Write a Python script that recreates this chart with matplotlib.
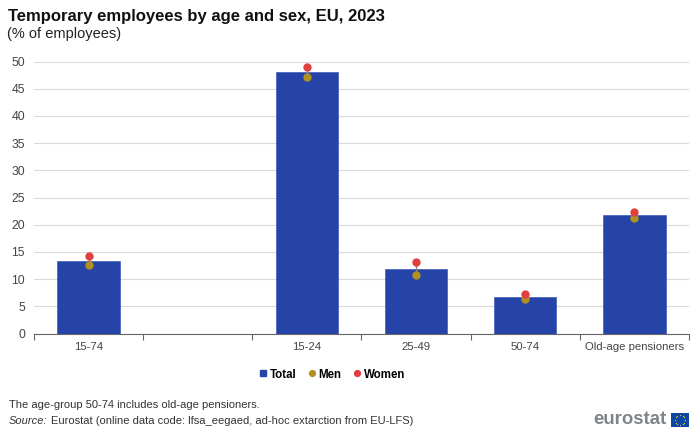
import numpy as np
import matplotlib
matplotlib.use("Agg")
import matplotlib.pyplot as plt
from matplotlib.lines import Line2D
from matplotlib.patches import Rectangle

plt.rcParams['font.family'] = ['Liberation Sans', 'DejaVu Sans']

categories = ["15-74", "", "15-24", "25-49", "50-74", "Old-age pensioners"]
total = [13.4, np.nan, 48.1, 11.9, 6.8, 21.8]
men = [12.6, np.nan, 47.1, 10.7, 6.3, 21.3]
women = [14.3, np.nan, 49.0, 13.1, 7.3, 22.4]
yticks = [0, 5, 10, 15, 20, 25, 30, 35, 40, 45, 50]

BLUE = "#2644A7"
GOLD = "#B09120"
RED = "#E04040"
W, H = 700, 433

fig = plt.figure(figsize=(7, 4.33), dpi=100)
ax = fig.add_axes([34/W, 1-333.5/H, (689-34)/W, (333.5-61.5)/H])
x = np.arange(len(categories))

ax.bar(x, total, width=0.57, color=BLUE, edgecolor="#3F5BB8", linewidth=0.5, zorder=3)
ax.vlines(x, men, women, color="#888888", linewidth=1, zorder=4)
ax.scatter(x, men, s=36, color=GOLD, linewidth=0, zorder=5, clip_on=False)
ax.scatter(x, women, s=36, color=RED, linewidth=0, zorder=6, clip_on=False)

ax.set_xlim(-0.5, len(categories)-0.5)
ax.set_ylim(0, 50)
ax.set_yticks(yticks)
ax.set_xticks(np.arange(len(categories)+1)-0.5)
ax.set_xticklabels([])
ax.set_xticks(x, minor=True)
ax.set_xticklabels(categories, minor=True)
ax.tick_params(axis='x', which='major', length=4, width=0.8, color="#666666", direction='out')
ax.tick_params(axis='x', which='minor', length=0, pad=6, labelsize=8.2, labelcolor="#444444")
ax.tick_params(axis='y', length=0, pad=6.5, labelsize=8.8, labelcolor="#444444")
ax.grid(axis='y', color="#DADADA", linewidth=0.8, zorder=0)
ax.set_axisbelow(True)
for s in ['top', 'left', 'right']:
    ax.spines[s].set_visible(False)
ax.spines['bottom'].set_color("#666666")
ax.spines['bottom'].set_linewidth(0.8)

fig.text(8/W, 1-16/H, "Temporary employees by age and sex, EU, 2023", fontsize=12.0,
         fontweight='bold', color="#111111", va='center', ha='left')
fig.text(7/W, 1-34/H, "(% of employees)", fontsize=10.5, color="#222222", va='center', ha='left')

handles = [
    Line2D([], [], marker='s', linestyle='', color=BLUE, markersize=3.8),
    Line2D([], [], marker='o', linestyle='', color=GOLD, markersize=4.2),
    Line2D([], [], marker='o', linestyle='', color=RED, markersize=4.2),
]
fig.legend(handles, ["Total", "Men", "Women"], loc='center', bbox_to_anchor=(332/W, 1-374.5/H),
           ncol=3, frameon=False, handlelength=0.7, handletextpad=0.25, columnspacing=1.0,
           prop={'weight': 'bold', 'size': 8.3})

fig.text(9/W, 1-405.5/H, "The age-group 50-74 includes old-age pensioners.", fontsize=8.05,
         color="#333333", va='center', ha='left')
fig.text(9/W, 1-421/H, "Source:", fontsize=8.05, style='italic', color="#333333", va='center', ha='left')
fig.text(51/W, 1-421/H, "Eurostat (online data code: lfsa_eegaed, ad-hoc extarction from EU-LFS)",
         fontsize=8.05, color="#333333", va='center', ha='left')

fig.text(667/W, 1-420/H, "eurostat", fontsize=13.4, fontweight='bold', color="#7F8489",
         va='center', ha='right')
flag = fig.add_axes([671/W, 1-427/H, 18/W, 14/H])
flag.add_patch(Rectangle((0, 0), 1, 1, color="#0E47A1"))
angles = np.linspace(0, 2*np.pi, 12, endpoint=False)
flag.scatter(0.5+0.28*np.cos(angles), 0.5+0.36*np.sin(angles), s=0.8, color="#E8C520", linewidth=0)
flag.set_xlim(0, 1); flag.set_ylim(0, 1)
flag.axis('off')

fig.savefig("out.png", dpi=100)
